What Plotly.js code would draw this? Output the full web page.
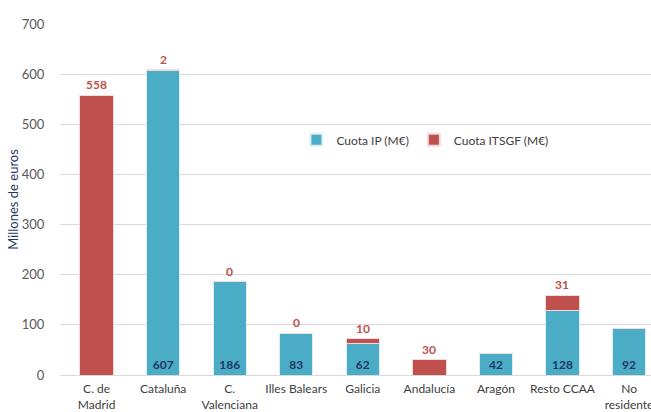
<!DOCTYPE html>
<html>
<head>
<meta charset="utf-8">
<script src="https://cdn.plot.ly/plotly-3.0.1.min.js"></script>
<style>html,body{margin:0;padding:0;background:#fff;}#chart{width:651px;height:412px;}</style>
</head>
<body>
<div id="chart"></div>
<script>
var categories = ["C. de<br>Madrid", "Cataluña", "C.<br>Valenciana", "Illes Balears", "Galicia", "Andalucía", "Aragón", "Resto CCAA", "No<br>residente"];
var cuotaIP =    [0, 607, 186, 83, 62, 0, 42, 128, 92];
var cuotaITSGF = [558, 2, 0, 0, 10, 30, null, 31, null];
var ipLabels =    ["", "607", "186", "83", "62", "", "42", "128", "92"];
var itsgfLabels = ["558", "2", "0", "0", "10", "30", "", "31", ""];
var yTicks = [0, 100, 200, 300, 400, 500, 600, 700];

var FONT = "Lato, 'Open Sans', sans-serif";

var traceIP = {
  type: "bar", name: "Cuota IP (M€)", x: categories, y: cuotaIP,
  marker: {color: "#4BACC6", line: {color: "#DDEFF4", width: 1}},
  text: ipLabels, textposition: "inside", insidetextanchor: "start",
  textfont: {family: FONT, size: 12, color: "#1F3864", weight: "bold"},
  hoverinfo: "none"
};
var traceITSGF = {
  type: "bar", name: "Cuota ITSGF (M€)", x: categories, y: cuotaITSGF.map(function(v){return v===null?0:v;}),
  marker: {color: "#C0504D", line: {color: "#F2DCDB", width: 1}},
  textposition: "none",
  hoverinfo: "none"
};

var annotations = categories.map(function(c, i){
  return {
    x: c, y: cuotaIP[i] + (cuotaITSGF[i] || 0), xref: "x", yref: "y",
    text: "<b>" + itsgfLabels[i] + "</b>", showarrow: false,
    yanchor: "bottom", yshift: 1,
    font: {family: FONT, size: 12, color: "#C0504D"}
  };
});

var layout = {
  width: 651, height: 412,
  margin: {l: 60, r: 0, t: 24, b: 37},
  barmode: "stack", bargap: 0.5,
  paper_bgcolor: "#fff", plot_bgcolor: "#fff",
  font: {family: FONT, size: 12, color: "#595959"},
  showlegend: true,
  legend: {orientation: "h", x: 0.4, xanchor: "left", y: 0.67, yanchor: "middle",
           font: {family: FONT, size: 12, color: "#404040"}, traceorder: "normal",
           itemwidth: 30, itemsizing: "constant", tracegroupgap: 0},
  xaxis: {type: "category", range: [-0.55, 8.33], showgrid: false, zeroline: false,
          showline: true, linecolor: "#D9D9D9", linewidth: 1, ticks: "",
          ticklabelstandoff: 3,
          tickfont: {family: FONT, size: 12, color: "#404040"}, fixedrange: true},
  yaxis: {range: [0, 700], tickvals: yTicks, ticktext: yTicks.map(String),
          showgrid: true, gridcolor: "#D9D9D9", gridwidth: 1, zeroline: false,
          showline: false, ticks: "outside", ticklen: 12, tickcolor: "rgba(0,0,0,0)",
          tickfont: {family: FONT, size: 13, color: "#595959"},
          title: {text: "Millones de euros", font: {family: FONT, size: 13, color: "#1F3864"}, standoff: 0},
          fixedrange: true},
  annotations: annotations
};

Plotly.newPlot("chart", [traceIP, traceITSGF], layout, {displayModeBar: false, staticPlot: true});
</script>
</body>
</html>
